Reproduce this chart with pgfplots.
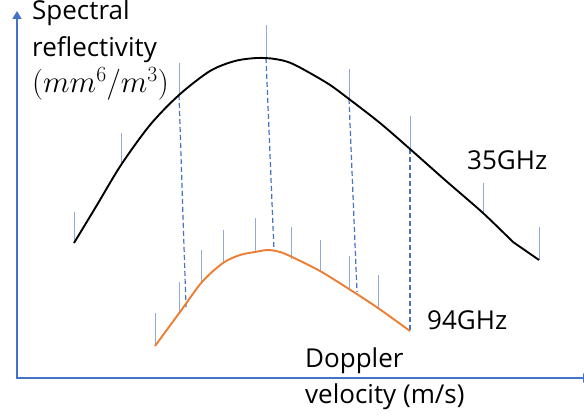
\RequirePackage{fix-cm}
\documentclass[border=0pt]{standalone}
\usepackage{fontspec}
\setmainfont{Open Sans}
\usepackage{pgfplots}
\pgfplotsset{compat=1.18}
\usetikzlibrary{arrows.meta}
\definecolor{axblue}{RGB}{68,114,196}
\definecolor{spike}{RGB}{143,170,220}
\definecolor{orng}{RGB}{237,125,49}
\begin{document}
\begin{tikzpicture}
\begin{axis}[
  scale only axis, width=584bp, height=418bp,
  xmin=0, xmax=584, ymin=0, ymax=418, y dir=reverse,
  hide axis, clip=false,
]
% axes
\addplot[axblue, line width=1.8bp, -{Triangle[length=8bp,width=9bp]}] coordinates {(17,378) (17,11)};
\addplot[axblue, line width=1.8bp, -{Triangle[length=8bp,width=9bp]}] coordinates {(16.1,378) (591,378)};
% spikes on 35 GHz
\addplot[spike, line width=1bp] coordinates {(74,212) (74,243)};
\addplot[spike, line width=1bp] coordinates {(121,133) (121,165)};
\addplot[spike, line width=1bp] coordinates {(179,63) (179,95)};
\addplot[spike, line width=1bp] coordinates {(266,25) (266,58)};
\addplot[spike, line width=1bp] coordinates {(349,69) (349,99)};
\addplot[spike, line width=1bp] coordinates {(410,116) (410,149)};
\addplot[spike, line width=1bp] coordinates {(483,183) (483,213)};
\addplot[spike, line width=1bp] coordinates {(539,227) (539,260)};
% spikes on 94 GHz
\addplot[spike, line width=1bp] coordinates {(155,313) (155,346)};
\addplot[spike, line width=1bp] coordinates {(179,282) (179,314)};
\addplot[spike, line width=1bp] coordinates {(201,250) (201,283)};
\addplot[spike, line width=1bp] coordinates {(223,230) (223,263)};
\addplot[spike, line width=1bp] coordinates {(255,218) (255,252)};
\addplot[spike, line width=1bp] coordinates {(291,227) (291,259)};
\addplot[spike, line width=1bp] coordinates {(320,240) (320,272)};
\addplot[spike, line width=1bp] coordinates {(349,256) (349,289)};
\addplot[spike, line width=1bp] coordinates {(378,275) (378,308)};
% dashed links
\addplot[axblue, line width=1.2bp, dash pattern=on 5bp off 3bp] coordinates {(179,95) (186,307)};
\addplot[axblue, line width=1.2bp, dash pattern=on 5bp off 3bp] coordinates {(266,58) (274,251)};
\addplot[axblue, line width=1.2bp, dash pattern=on 5bp off 3bp] coordinates {(349,99) (357,292)};
\addplot[axblue, line width=1.2bp, dash pattern=on 5bp off 3bp] coordinates {(410,149) (410,331)};
% 35 GHz curve
\addplot[black, line width=1.9bp, smooth, tension=0.5] coordinates {
(74,243) (97,205) (121,165) (150,125) (179,95) (210,71) (235,61) (257,58)
(275,59) (293,64) (327,83) (349,99) (380,123) (410,149) (445,180) (483,213) (513,242)};
\addplot[black, line width=1.9bp] coordinates {(513,242) (539,260)};
% 94 GHz curve
\addplot[orng, line width=1.9bp, smooth, tension=0.5] coordinates {
(155,346) (180,312) (202,282) (223,263) (240,255) (255,252) (268,250) (280,252)
(292,257) (320,271) (349,289) (378,308) (410,331)};
% labels
\node[anchor=base west, inner sep=0pt, font=\fontsize{26bp}{31bp}\selectfont] at (axis cs:32,20) {Spectral};
\node[anchor=base west, inner sep=0pt, font=\fontsize{26bp}{31bp}\selectfont] at (axis cs:32,57) {reflectivity};
\node[anchor=base west, inner sep=0pt, font=\fontsize{31bp}{36bp}\selectfont] at (axis cs:32,93) {$(mm^6/m^3)$};
\node[anchor=base west, inner sep=0pt, font=\fontsize{26bp}{31bp}\selectfont] at (axis cs:467,169) {35GHz};
\node[anchor=base west, inner sep=0pt, font=\fontsize{26bp}{31bp}\selectfont] at (axis cs:427,329) {94GHz};
\node[anchor=base west, inner sep=0pt, font=\fontsize{26bp}{31bp}\selectfont] at (axis cs:305,367) {Doppler};
\node[anchor=base west, inner sep=0pt, font=\fontsize{26bp}{31bp}\selectfont] at (axis cs:305,403) {velocity (m/s)};
\coordinate (A) at (axis cs:0,418);
\coordinate (B) at (axis cs:584,0);
\end{axis}
\pgfresetboundingbox
\path[use as bounding box] (A) rectangle (B);
\end{tikzpicture}
\end{document}
